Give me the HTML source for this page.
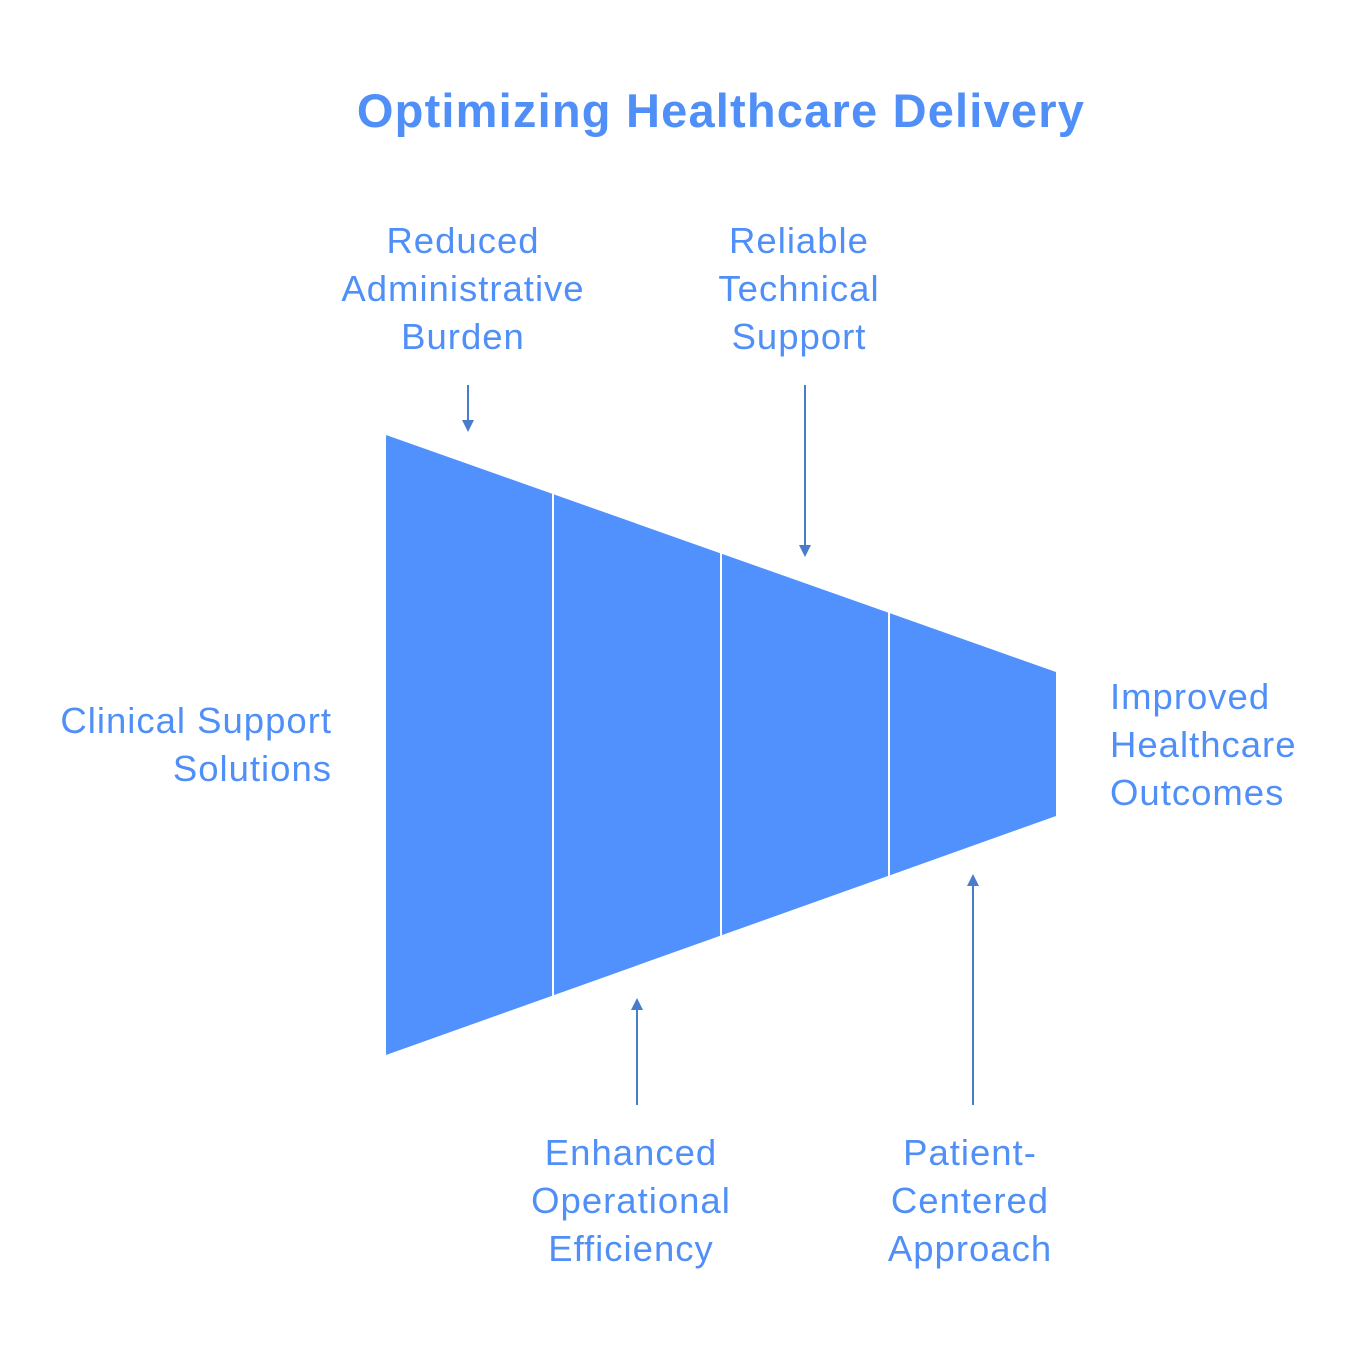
<!DOCTYPE html>
<html><head><meta charset="utf-8"><style>body{margin:0;background:#fff}svg{display:block}</style></head>
<body>
<svg width="1370" height="1370" viewBox="0 0 1370 1370" xmlns="http://www.w3.org/2000/svg" font-family="Liberation Sans, Arial, sans-serif">
<text x="721" y="127" text-anchor="middle" font-size="47" font-weight="bold" fill="#4f8ff7" letter-spacing="1.2">Optimizing Healthcare Delivery</text>
<polygon points="386,435 1056,672 1056,816 386,1055" fill="#5091fd"/>
<g stroke="#fff" stroke-width="2">
<line x1="553" y1="493" x2="553" y2="997"/>
<line x1="721" y1="553" x2="721" y2="937"/>
<line x1="889" y1="612" x2="889" y2="877"/>
</g>
<g stroke="#4a7ccc" stroke-width="2" fill="#4a7ccc">
<line x1="468" y1="385" x2="468" y2="422"/><polygon points="462,420 474,420 468,432" stroke="none"/>
<line x1="805" y1="385" x2="805" y2="547"/><polygon points="799,545 811,545 805,557" stroke="none"/>
<line x1="637" y1="1105" x2="637" y2="1008"/><polygon points="631,1010 643,1010 637,998" stroke="none"/>
<line x1="973" y1="1105" x2="973" y2="884"/><polygon points="967,886 979,886 973,874" stroke="none"/>
</g>
<g font-size="36.5" fill="#4f8ff7" text-anchor="middle" letter-spacing="1">
<text x="463" y="253">Reduced</text><text x="463" y="301">Administrative</text><text x="463" y="349">Burden</text>
<text x="799" y="253">Reliable</text><text x="799" y="301">Technical</text><text x="799" y="349">Support</text>
<text x="631" y="1165">Enhanced</text><text x="631" y="1213">Operational</text><text x="631" y="1261">Efficiency</text>
<text x="970" y="1165">Patient-</text><text x="970" y="1213">Centered</text><text x="970" y="1261">Approach</text>
<text x="332" y="733" text-anchor="end">Clinical Support</text><text x="332" y="781" text-anchor="end">Solutions</text>
<text x="1110" y="709" text-anchor="start">Improved</text><text x="1110" y="757" text-anchor="start">Healthcare</text><text x="1110" y="805" text-anchor="start">Outcomes</text>
</g>
</svg>
</body></html>
